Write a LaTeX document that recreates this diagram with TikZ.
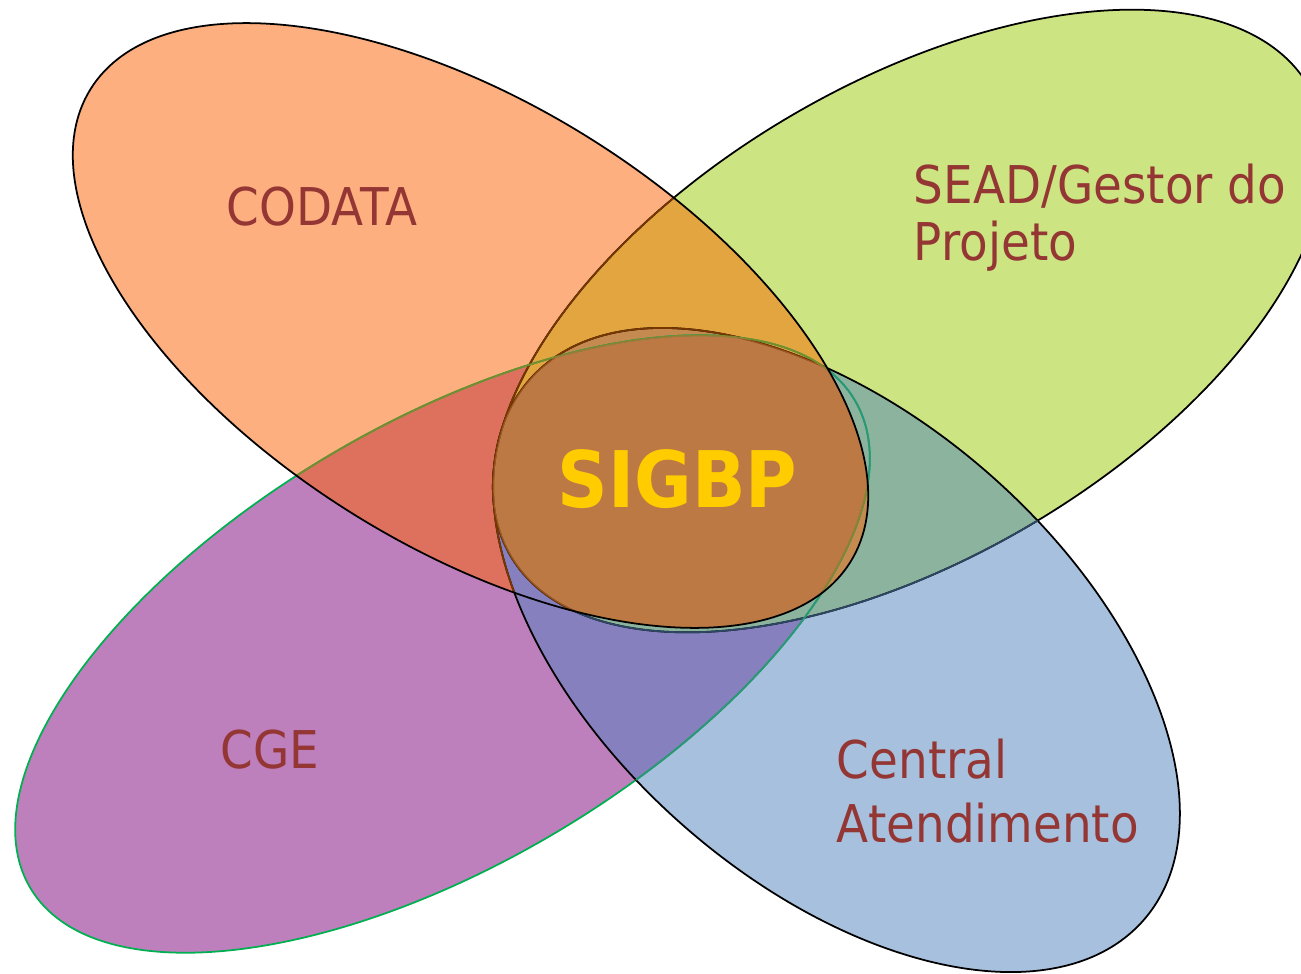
\documentclass[tikz,border=0pt]{standalone}
\usepackage{fontspec}
\setmainfont{DejaVu Sans}[FakeStretch=0.9]
\usepackage{xcolor}

\definecolor{laranja}{RGB}{253,175,128}
\definecolor{verde}{RGB}{205,228,131}
\definecolor{roxo}{RGB}{190,127,189}
\definecolor{azul}{RGB}{167,192,221}
\definecolor{laranjaverde}{RGB}{227,165,64}
\definecolor{laranjaroxo}{RGB}{222,113,94}
\definecolor{roxoazul}{RGB}{134,128,190}
\definecolor{verdeazul}{RGB}{140,179,157}
\definecolor{castanho}{RGB}{196,138,80}
\definecolor{centro}{RGB}{183,111,60}
\definecolor{bordaroxo}{RGB}{0,176,80}
\definecolor{marrom}{RGB}{120,55,0}
\definecolor{oliva}{RGB}{120,140,45}
\definecolor{azulescuro}{RGB}{45,70,100}
\definecolor{verdeagua}{RGB}{46,150,120}
\definecolor{texto}{RGB}{148,54,52}
\definecolor{amarelo}{RGB}{255,204,0}

% elipses (coordenadas em pixels)
\newcommand{\elCodata}{(470.5,325.5) ellipse [x radius=447.5, y radius=222]}
\newcommand{\elSead}{(909.6,321) ellipse [x radius=463, y radius=237]}
\newcommand{\elCge}{(442.5,644) ellipse [x radius=479, y radius=220]}
\newcommand{\elCentral}{(836.5,650) ellipse [x radius=409, y radius=233]}

\tikzset{
  rotCodata/.style={rotate around={-31.9:(470.5,325.5)}},
  rotSead/.style={rotate around={30.5:(909.6,321)}},
  rotCge/.style={rotate around={30.6:(442.5,644)}},
  rotCentral/.style={rotate around={-41.4:(836.5,650)}},
  rotulo/.style={inner sep=0pt, anchor=base west, text=texto, align=left,
    font=\fontsize{14.8}{16.2}\selectfont},
}

\begin{document}
\begin{tikzpicture}[x=0.01cm, y=-0.01cm, line width=0.5pt]
    \useasboundingbox (0,0) rectangle (1301,973);
    % Preenchimentos
    \fill[verde, rotSead] \elSead;
    \fill[roxo, rotCge] \elCge;
    \fill[azul, rotCentral] \elCentral;
    \fill[laranja, rotCodata] \elCodata;
    % Intersecoes
    \begin{scope}
        \clip[rotCodata] \elCodata;
        \fill[laranjaroxo, rotCge] \elCge;
        \fill[laranjaverde, rotSead] \elSead;
    \end{scope}
    \begin{scope}
        \clip[rotCentral] \elCentral;
        \fill[roxoazul, rotCge] \elCge;
        \fill[verdeazul, rotSead] \elSead;
    \end{scope}
    \begin{scope}
        \clip[rotCodata] \elCodata;
        \clip[rotSead] \elSead;
        \fill[castanho, rotCentral] \elCentral;
    \end{scope}
    % Contornos
    \draw[rotSead] \elSead;
    \draw[bordaroxo, rotCge] \elCge;
    \draw[rotCentral] \elCentral;
    \begin{scope}
        \clip[rotCentral] \elCentral;
        \draw[azulescuro, rotSead] \elSead;
        \draw[verdeagua, rotCge] \elCge;
    \end{scope}
    \begin{scope}
        \clip[rotCodata] \elCodata;
        \draw[marrom, rotSead] \elSead;
        \draw[marrom, rotCentral] \elCentral;
        \draw[oliva, rotCge] \elCge;
    \end{scope}
    % Centro comum
    \begin{scope}
        \clip[rotCodata] \elCodata;
        \clip[rotSead] \elSead;
        \clip[rotCge] \elCge;
        \fill[centro, fill opacity=0.6, rotCentral] \elCentral;
    \end{scope}
    \draw[rotCodata] \elCodata;
    % Textos
    \node[rotulo] (codata) at (226,225) {CODATA};
    \node[rotulo] (sead) at (913,260) {SEAD/Gestor do\\Projeto};
    \node[rotulo] (cge) at (220,768) {CGE};
    \node[rotulo, font=\fontsize{14.8}{18.2}\selectfont] (central) at (836,842) {Central\\Atendimento};
    \node[inner sep=0pt, anchor=base, text=amarelo, font=\bfseries\fontsize{22.2}{26}\selectfont] (sigbp) at (677.5,507) {SIGBP};
\end{tikzpicture}
\end{document}
